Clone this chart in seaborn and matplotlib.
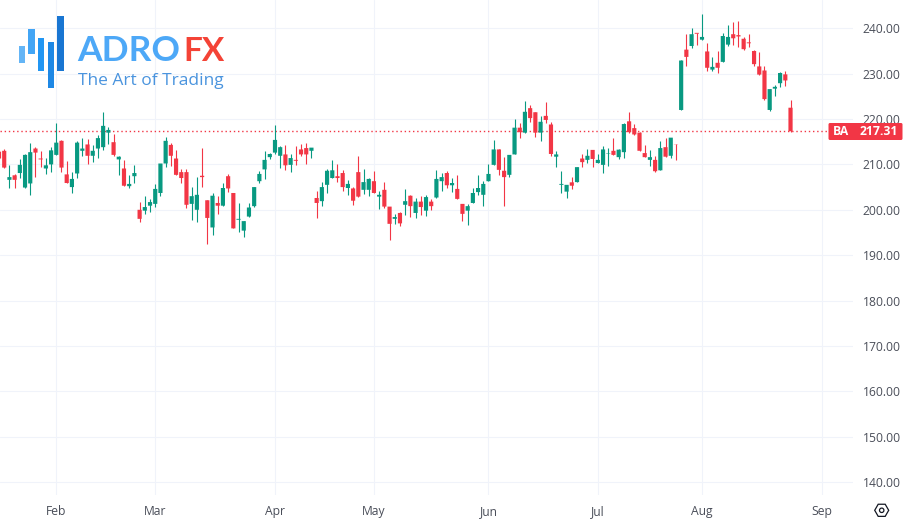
import numpy as np
import pandas as pd
import seaborn as sns
import matplotlib
matplotlib.use("Agg")
import matplotlib.pyplot as plt
from matplotlib.patches import Rectangle, RegularPolygon, Circle, FancyBboxPatch
from matplotlib.transforms import Affine2D

# daily candles
opens = [212.8, 213.0, 206.6, 207.6, 208.1, 204.9, 205.8, 213.5, 211.3, 209.1, 210.0, 212.1, 215.2, 207.8, 205.0, 208.0, 213.0, 214.4, 211.9, 213.5,
         213.8, 217.0, 214.9, 211.1, 209.1, 205.2, 207.4, 200.0, 199.8, 200.9, 201.3, 203.7, 210.2, 214.3, 211.3, 208.3, 208.3, 201.3, 200.0, 207.5,
         202.1, 196.1, 201.5, 200.9, 207.4, 203.7, 197.8, 195.4, 198.5, 200.8, 206.3, 208.9, 211.6, 212.6, 211.9, 212.2, 209.9, 211.0, 213.3, 213.6,
         213.0, 202.6, 201.9, 205.5, 207.0, 207.4, 208.1, 204.8, 204.7, 208.3, 204.4, 204.4, 206.3, 202.9, 204.4, 200.7, 198.0, 199.3, 201.1, 203.1,
         199.3, 201.8, 199.8, 201.8, 202.7, 206.3, 208.1, 205.4, 204.6, 201.3, 199.8, 201.5, 203.9, 203.3, 206.3, 209.9, 213.3, 208.6, 207.7, 212.2,
         218.1, 217.0, 222.4, 221.5, 217.0, 220.7, 218.8, 211.7, 205.5, 204.0, 206.05, 206.1, 211.3, 211.0, 213.2, 210.3, 209.9, 212.4, 213.0, 211.6,
         212.7, 219.5, 218.0, 217.0, 212.5, 211.0, 211.0, 208.7, 213.8, 211.9, 214.35, 222.0, 235.3, 236.1, 239.0, 237.5, 234.9, 230.9, 232.4, 232.6,
         236.4, 238.7, 238.5, 237.7, 236.9, 235.0, 231.6, 230.7, 222.0, 226.7, 227.9, 229.85, 222.5]
highs = [213.2, 213.5, 209.8, 207.8, 211.1, 212.2, 214.8, 213.8, 213.0, 211.4, 213.8, 219.1, 215.4, 210.8, 208.4, 215.1, 215.9, 215.5, 214.3, 216.5,
         221.5, 218.2, 216.7, 211.9, 211.0, 207.7, 209.8, 201.7, 203.1, 202.4, 205.6, 210.2, 216.0, 214.8, 213.2, 209.0, 209.0, 205.0, 207.2, 213.6,
         202.2, 203.7, 203.0, 205.8, 207.9, 203.8, 201.4, 197.5, 201.6, 205.0, 208.6, 212.9, 212.6, 218.7, 214.1, 214.2, 212.3, 214.1, 214.6, 214.7,
         213.7, 204.2, 206.1, 208.9, 210.9, 210.0, 208.7, 206.5, 205.0, 211.9, 209.0, 207.0, 208.6, 204.2, 206.1, 200.7, 199.1, 199.6, 204.6, 203.3,
         202.5, 203.0, 203.3, 202.4, 208.7, 208.0, 208.5, 206.9, 207.6, 201.3, 201.3, 204.8, 207.7, 206.3, 210.2, 215.4, 213.4, 211.7, 212.1, 220.0,
         219.2, 224.0, 223.1, 221.5, 220.7, 223.8, 219.3, 213.0, 208.5, 205.5, 207.2, 209.5, 212.2, 213.3, 213.2, 212.2, 214.1, 213.7, 215.75, 213.5,
         219.05, 221.55, 218.8, 217.1, 214.2, 213.1, 211.8, 215.1, 215.75, 215.9, 214.6, 233.0, 238.7, 240.1, 239.0, 243.1, 236.8, 233.7, 234.9, 238.9,
         240.7, 241.3, 241.6, 238.1, 238.7, 235.3, 234.7, 231.6, 226.7, 227.6, 230.4, 230.5, 224.2]
lows = [211.3, 209.3, 204.9, 204.9, 207.0, 204.9, 203.2, 207.3, 209.5, 207.8, 208.4, 212.1, 208.4, 205.8, 203.8, 207.0, 211.9, 210.2, 210.5, 211.5,
        213.2, 214.6, 211.9, 207.6, 205.2, 204.7, 205.8, 197.4, 199.1, 199.5, 200.7, 203.1, 209.5, 209.7, 207.7, 205.9, 200.5, 197.8, 197.2, 205.0,
        192.5, 194.4, 199.1, 200.9, 203.9, 195.9, 195.2, 193.9, 198.5, 200.7, 206.0, 206.7, 211.3, 212.4, 209.3, 208.7, 208.4, 209.8, 211.9, 210.2,
        211.5, 198.2, 200.9, 203.7, 207.0, 206.1, 204.2, 203.3, 201.1, 202.9, 203.5, 203.0, 203.7, 200.2, 200.5, 193.3, 196.9, 196.4, 198.9, 198.3,
        198.2, 198.9, 198.7, 200.0, 202.7, 204.1, 204.7, 204.0, 202.3, 197.6, 196.7, 201.4, 203.3, 200.9, 206.3, 209.8, 207.7, 200.8, 207.3, 212.2,
        215.9, 216.9, 219.4, 216.1, 215.2, 219.05, 211.9, 209.5, 203.8, 202.7, 204.6, 206.1, 209.4, 210.4, 209.4, 210.3, 208.0, 209.6, 212.0, 211.3,
        211.4, 216.9, 216.5, 212.95, 211.6, 209.7, 208.3, 208.7, 211.7, 211.4, 211.0, 221.9, 231.8, 235.7, 236.3, 237.4, 230.7, 230.6, 230.2, 232.6,
        236.2, 236.4, 235.8, 235.2, 235.8, 231.8, 229.6, 224.2, 221.8, 225.15, 227.1, 227.2, 217.2]
closes = [211.3, 209.3, 207.2, 206.6, 209.9, 212.1, 212.7, 212.6, 211.1, 209.8, 213.1, 214.8, 209.3, 205.9, 206.8, 214.8, 213.5, 211.9, 213.0, 215.8,
          218.5, 217.6, 212.1, 211.7, 205.3, 205.7, 208.1, 198.0, 200.6, 201.7, 204.6, 210.2, 215.2, 211.9, 207.7, 207.0, 201.1, 203.0, 203.3, 207.2,
          198.2, 203.1, 200.9, 204.8, 204.7, 195.9, 198.0, 197.5, 200.5, 205.0, 207.9, 211.0, 212.3, 215.4, 213.8, 209.8, 211.4, 210.8, 212.2, 212.2,
          213.7, 201.5, 205.0, 208.6, 208.7, 207.0, 205.0, 205.7, 202.0, 202.9, 206.1, 206.8, 203.7, 203.3, 200.7, 196.9, 198.4, 197.0, 201.9, 200.8,
          201.8, 200.6, 202.8, 200.8, 206.8, 207.2, 205.4, 205.9, 202.4, 199.1, 200.8, 203.7, 204.8, 205.7, 207.9, 213.3, 208.8, 207.2, 212.1, 218.1,
          217.1, 221.6, 220.2, 217.0, 219.4, 219.8, 212.3, 212.2, 205.7, 205.5, 205.3, 209.4, 210.5, 211.9, 211.2, 211.0, 213.3, 212.5, 212.1, 213.25,
          218.9, 217.1, 216.6, 213.0, 211.6, 211.6, 208.5, 213.6, 211.7, 215.9, 214.3, 232.9, 233.7, 238.7, 238.8, 238.1, 231.3, 231.5, 231.3, 238.3,
          238.1, 237.8, 238.2, 235.4, 236.7, 232.1, 229.8, 224.4, 226.6, 227.1, 230.15, 228.5, 217.31]

month_labels = ["Feb", "Mar", "Apr", "May", "Jun", "Jul", "Aug", "Sep"]
month_bars = [11, 30, 53, 72, 94, 115, 135, 158]
price_ticks = [140, 150, 160, 170, 180, 190, 200, 210, 220, 230, 240]
last_price = 217.31

GREEN = "#089981"
RED = "#F23645"
GRID = "#F0F3FA"
TEXT = "#4A4E59"

sns.set_theme(style="white")
plt.rcParams["font.family"] = ["Open Sans", "DejaVu Sans"]

df = pd.DataFrame({"bar": np.arange(len(opens)), "open": opens, "high": highs, "low": lows, "close": closes})
df["bottom"] = df[["open", "close"]].min(axis=1)
df["height"] = (df["open"] - df["close"]).abs()
df["up"] = df["close"] >= df["open"]

fig = plt.figure(figsize=(9.04, 5.28), dpi=100)
ax = fig.add_axes([0, 1 - 495 / 528, 853 / 904, 495 / 528])

# bodies + wicks
for is_up, color in [(True, GREEN), (False, RED)]:
    part = df[df["up"] == is_up]
    ax.vlines(part["bar"], part["low"], part["high"], color=color, lw=0.8, zorder=3)
    sns.barplot(data=part, x="bar", y="height", bottom=part["bottom"], native_scale=True,
                color=color, saturation=1, width=0.8, errorbar=None, linewidth=0, ax=ax, zorder=4)

# no pixel snapping, keeps bodies centred on their wicks
for bar in ax.patches:
    bar.set_snap(False)

ax.axhline(last_price, color=RED, lw=1, ls=(0, (1, 2)), zorder=2)

ax.set_xlim(0.19, 164.0)
ax.set_ylim(137.13, 246.24)
ax.set_xticks(month_bars)
ax.set_xticklabels(month_labels)
ax.set_yticks(price_ticks)
ax.set_yticklabels([f"{p:.2f}" for p in price_ticks])
ax.yaxis.tick_right()
ax.tick_params(axis="both", length=0, labelsize=8.7, labelcolor=TEXT)
ax.tick_params(axis="x", pad=7)
ax.tick_params(axis="y", pad=7)
ax.set_xlabel("")
ax.set_ylabel("")
ax.grid(True, color=GRID, lw=0.8)
ax.set_axisbelow(True)
sns.despine(ax=ax, left=True, bottom=True, right=True, top=True)

# everything below is placed in image pixels
px = Affine2D().scale(1, -1).translate(0, 528)

# last price tag
fig.add_artist(FancyBboxPatch((828.5, 123), 74, 17, boxstyle="round,pad=0,rounding_size=1.5",
                              transform=px, fc=RED, ec="none", zorder=5))
fig.text(833, 131.5, "BA", transform=px, color="white", fontsize=8.7, fontweight="bold", va="center", zorder=6)
fig.text(898, 131.5, f"{last_price:.2f}", transform=px, color="white", fontsize=8.7, fontweight="bold",
         va="center", ha="right", zorder=6)

# logo
logo_bars = [(19, 45.7, 6.3, 17, "#64B5F6"), (28.3, 29, 6.4, 25, "#42A5F5"), (38, 38, 6.3, 33.3, "#2196F3"),
             (47.7, 41.7, 6.3, 46.3, "#1E88E5"), (57.3, 16, 6.4, 55.3, "#1976D2")]
for x0, y0, w, h, c in logo_bars:
    fig.add_artist(Rectangle((x0, y0), w, h, transform=px, fc=c, ec="none", zorder=5))
fig.text(77, 61, "ADRO", transform=px, color="#4DA8F7", fontsize=25.5, fontweight="bold", family="Lato", zorder=6)
fig.text(183, 61, "FX", transform=px, color="#F44336", fontsize=24, fontweight="bold", family="Lato", zorder=6)
fig.text(78, 85, "The Art of Trading", transform=px, color="#4A94DE", fontsize=12.5, family="Open Sans", zorder=6)

# settings icon
fig.add_artist(RegularPolygon((881.7, 510.3), 6, radius=7, orientation=np.pi / 2, transform=px,
                              fc="none", ec="#131722", lw=0.9, zorder=5))
fig.add_artist(Circle((881.7, 510.3), 2.2, transform=px, fc="none", ec="#131722", lw=0.9, zorder=5))

fig.savefig("out.png", dpi=100)
